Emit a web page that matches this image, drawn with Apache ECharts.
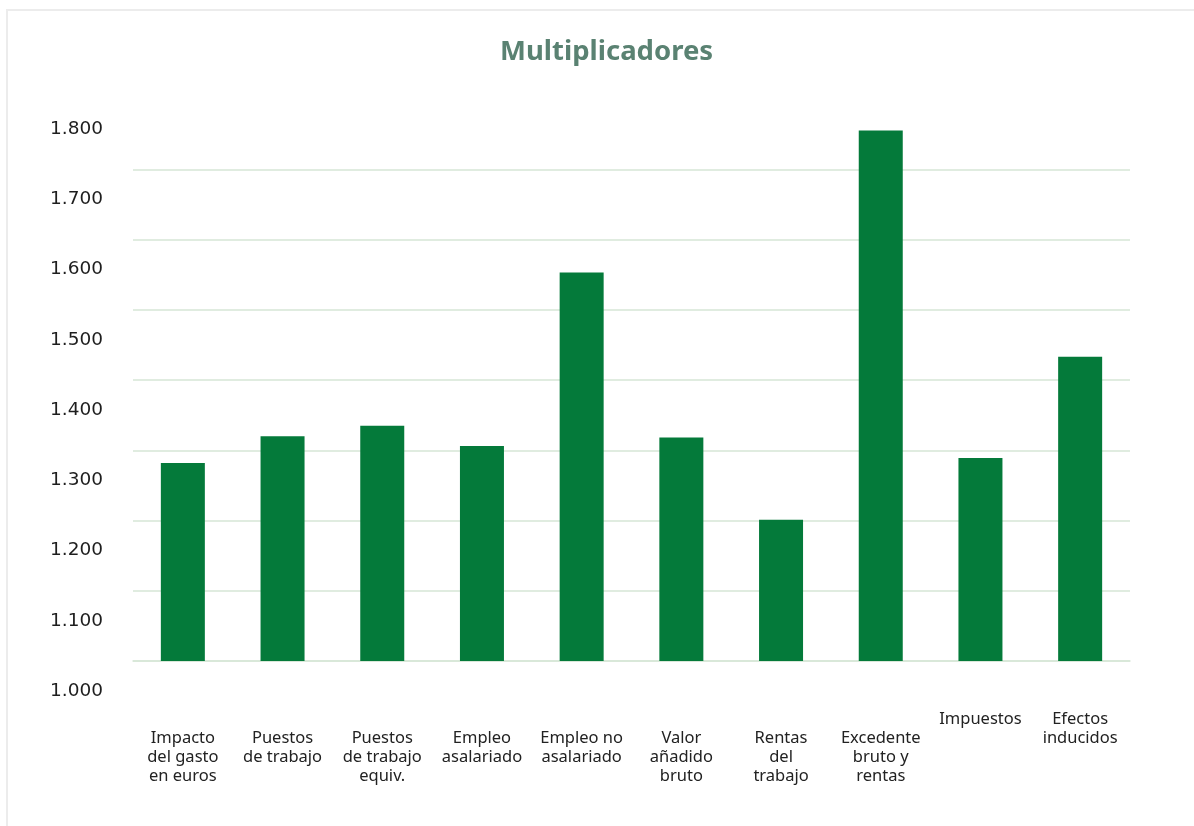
<!DOCTYPE html>
<html>
<head>
<meta charset="utf-8">
<script src="https://cdn.jsdelivr.net/npm/echarts@6/dist/echarts.min.js"></script>
<style>
  html, body { margin: 0; padding: 0; background: #ffffff; }
  #frame { position: absolute; left: 6px; top: 9px; right: 0; bottom: -10px;
           border-left: 2px solid #ececec; border-top: 2px solid #ececec; pointer-events: none; }
  #chart { position: absolute; left: 0; top: 0; width: 1194px; height: 826px; }
</style>
</head>
<body>
<div id="frame"></div>
<div id="chart"></div>
<script>
const titleText = 'Multiplicadores';
const categories = [
  'Impacto\ndel gasto\nen euros',
  'Puestos\nde trabajo',
  'Puestos\nde trabajo\nequiv.',
  'Empleo\nasalariado',
  'Empleo no\nasalariado',
  'Valor\nañadido\nbruto',
  'Rentas\ndel\ntrabajo',
  'Excedente\nbruto y\nrentas',
  'Impuestos',
  'Efectos\ninducidos'
];
const multiplicadores = [1.282, 1.320, 1.335, 1.306, 1.553, 1.318, 1.201, 1.755, 1.289, 1.433];
const yMin = 1.0;
const yMax = 1.8;
const yStep = 0.1;
const raisedLabels = ['Impuestos', 'Efectos\ninducidos'];

const chart = echarts.init(document.getElementById('chart'), null, { renderer: 'canvas' });

const gridColor = '#d6e6d6';

const categoryData = categories.map(function (c) {
  if (raisedLabels.indexOf(c) >= 0) return { value: c };
  return { value: c, textStyle: { padding: [19, 0, 0, 0] } };
});

const option = {
  backgroundColor: 'transparent',
  animation: false,
  title: {
    text: titleText,
    left: 500,
    top: 38,
    padding: 0,
    textStyle: {
      fontFamily: 'Noto Sans',
      fontWeight: 'bold',
      fontSize: 27.5,
      color: '#5a8272'
    }
  },
  grid: {
    left: 133,
    right: 64,
    top: 99,
    bottom: 165,
    containLabel: false,
    outerBoundsMode: 'none'
  },
  xAxis: {
    type: 'category',
    data: categoryData,
    axisTick: { show: false },
    axisLine: { show: true, lineStyle: { color: gridColor, width: 1.5 } },
    axisLabel: {
      interval: 0,
      margin: 49,
      verticalAlign: 'top',
      align: 'center',
      fontFamily: 'Noto Sans',
      fontSize: 16.5,
      lineHeight: 19,
      color: '#222222'
    }
  },
  yAxis: {
    type: 'value',
    min: yMin,
    max: yMax,
    interval: yStep,
    axisLine: { show: false },
    axisTick: { show: false },
    splitLine: {
      show: true,
      showMaxLine: false,
      lineStyle: { color: gridColor, width: 1.5 }
    },
    axisLabel: {
      margin: 30,
      verticalAlign: 'top',
      lineHeight: 60,
      fontFamily: 'DejaVu Sans',
      fontSize: 18.5,
      color: '#1e1e1e',
      formatter: function (v) { return v.toFixed(3); }
    }
  },
  series: [{
    type: 'bar',
    data: multiplicadores,
    barWidth: 44,
    itemStyle: { color: '#047a3a' }
  }]
};

chart.setOption(option);
</script>
</body>
</html>
